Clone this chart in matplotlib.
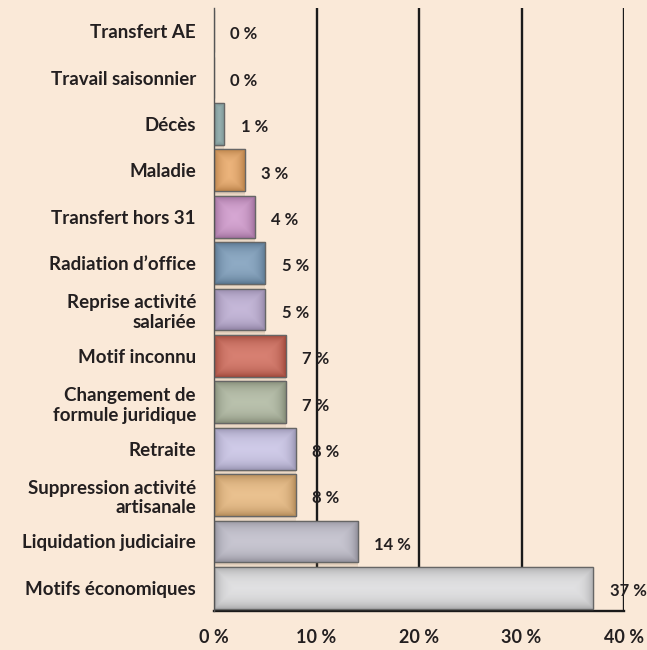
import matplotlib
matplotlib.use("Agg")
import matplotlib.pyplot as plt
import numpy as np
from matplotlib.colors import to_rgb

categories = ["Transfert AE", "Travail saisonnier", "Décès", "Maladie",
              "Transfert hors 31", "Radiation d\u2019office",
              "Reprise activité\nsalariée", "Motif inconnu",
              "Changement de\nformule juridique", "Retraite",
              "Suppression activité\nartisanale", "Liquidation judiciaire",
              "Motifs économiques"]
values = [0, 0, 1, 3, 4, 5, 5, 7, 7, 8, 8, 14, 37]
bar_colors = ["#cccccc", "#cccccc", "#9fbfbf", "#f0a860", "#cf92cb", "#7397b8",
              "#b9a8d2", "#d0604e", "#aab49a", "#c6c0e6", "#e8b474", "#bcbac8",
              "#dcdcde"]
xticks = [0, 10, 20, 30, 40]
xtick_labels = ["0 %", "10 %", "20 %", "30 %", "40 %"]

bg = "#fae9d8"
ink = "#231f20"
font = "Lato"

fig = plt.figure(figsize=(6.47, 6.5), dpi=100, facecolor=bg)
ax = fig.add_axes([214 / 647, 39 / 650, 410 / 647, 603 / 650])
ax.set_facecolor(bg)

y = np.arange(len(categories))

# soft shadow behind bars
for k, a in enumerate([0.10, 0.08, 0.06]):
    ax.barh(y + 0.05 + 0.03 * k, values, height=0.9 + 0.04 * k, left=0,
            color="#8a6a50", alpha=a, zorder=2, linewidth=0)

bars = ax.barh(y, values, height=0.9, color=bar_colors,
               edgecolor="#666666", linewidth=0.9, zorder=3)

# shading: lighter middle, darker edges
for b, c in zip(bars, bar_colors):
    w = b.get_width()
    if w <= 0:
        continue
    nx = max(int(w * 10.25), 2)
    ny = 42
    xx = np.arange(nx)[None, :]
    yy = np.arange(ny)[:, None]
    dx = np.minimum(xx, nx - 1 - xx)
    dy = np.minimum(yy, ny - 1 - yy)
    d = np.minimum(dx, dy).astype(float)
    dark = np.exp(-d / 7.0)
    base = np.array(to_rgb(c))
    img = base[None, None, :] * (1 - 0.22 * dark[..., None])
    img = img + (1 - base[None, None, :]) * 0.22 * (1 - dark[..., None])
    img = np.clip(img, 0, 1)
    x0, y0 = b.get_x(), b.get_y()
    im = ax.imshow(img, extent=[x0, x0 + w, y0 + b.get_height(), y0],
                   aspect="auto", zorder=3.5, interpolation="bilinear")
    im.set_clip_path(b)
    ax.add_patch(plt.Rectangle((x0, y0), w, b.get_height(), fill=False,
                               edgecolor="#666666", linewidth=0.9, zorder=3.6))

for xv in xticks[1:]:
    ax.axvline(xv, color="#1a1a1a", linewidth=1.7, zorder=1)

for yi, v in zip(y, values):
    ax.text(v + 1.6, yi + 0.07, f"{v} %", ha="left", va="center",
            fontsize=12, fontweight="bold", color=ink, family=font, zorder=6)

ax.set_xlim(0, 40)
ax.set_ylim(len(categories) - 0.5, -0.5)
ax.set_yticks(y)
ax.set_yticklabels(categories, fontsize=13.5, fontweight="bold", color=ink,
                   family=font, linespacing=1.2)
ax.set_xticks(xticks)
ax.set_xticklabels(xtick_labels, fontsize=13, fontweight="bold", color=ink,
                   family=font)
ax.tick_params(axis="y", length=0, pad=13)
ax.tick_params(axis="x", length=0, pad=13)

for s in ["top", "right"]:
    ax.spines[s].set_visible(False)
ax.spines["left"].set_color("#555555")
ax.spines["left"].set_linewidth(1.0)
ax.spines["bottom"].set_color("#1a1a1a")
ax.spines["bottom"].set_linewidth(1.7)
ax.spines["left"].set_zorder(4)

fig.savefig("out.png", dpi=100, facecolor=bg)
